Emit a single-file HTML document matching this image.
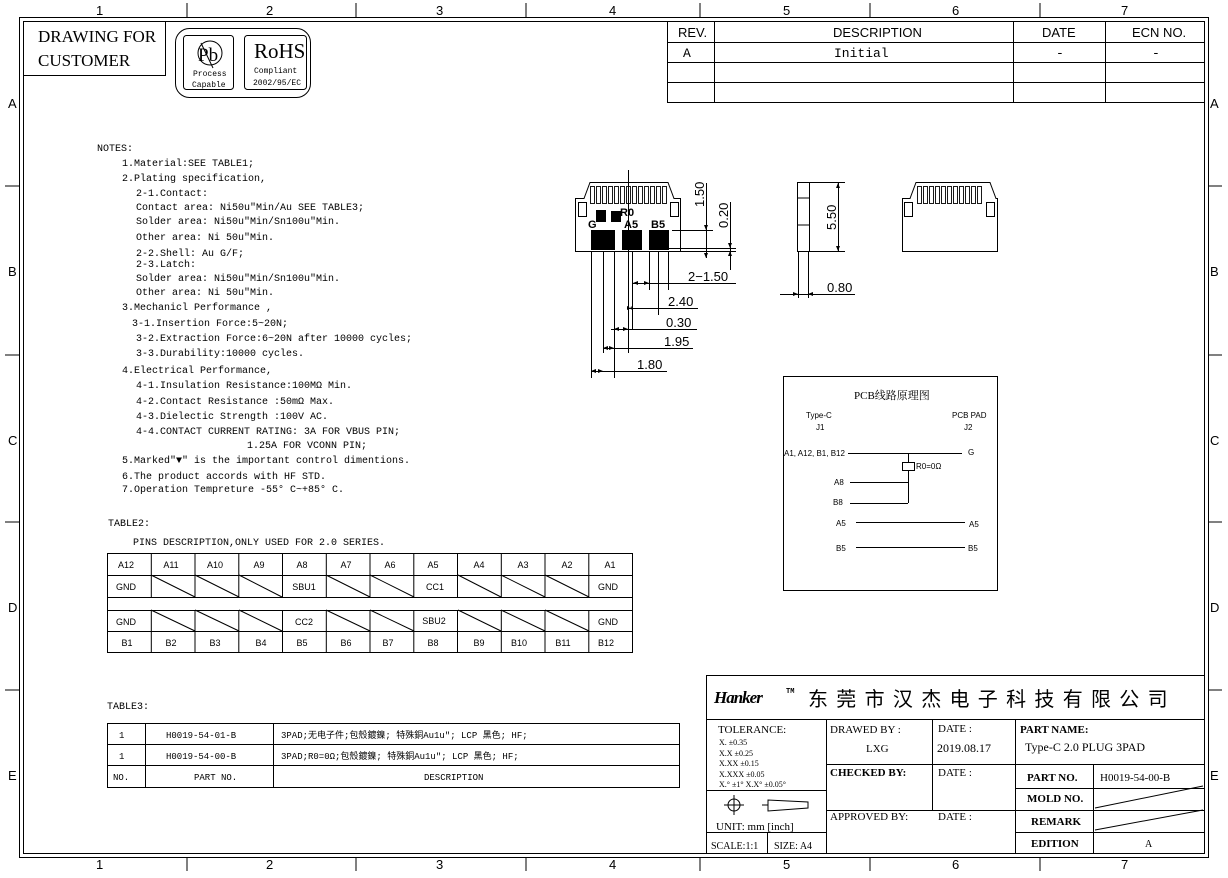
<!DOCTYPE html>
<html><head><meta charset="utf-8"><style>
html,body{margin:0;padding:0;background:#fff}
svg{display:block}
text{font-family:"Liberation Mono","Noto Sans CJK SC",monospace;font-size:10px;fill:#000}
.s text, text.s{font-family:"Liberation Sans","Noto Sans CJK SC",sans-serif}
.serif text, text.serif{font-family:"Liberation Serif","Noto Serif CJK SC",serif}
</style></head><body>
<svg width="1228" height="878" viewBox="0 0 1228 878" xmlns="http://www.w3.org/2000/svg">
<g fill="none" stroke="#000" stroke-width="1">
<rect x="19.5" y="17.5" width="1189" height="840"/>
<rect x="23.5" y="21.5" width="1181" height="832"/>
<path d="M187 3V17M356 3V17M526 3V17M700 3V17M870 3V17M1040 3V17M187 857V871M356 857V871M526 857V871M700 857V871M870 857V871M1040 857V871"/>
<path d="M5 186H19M5 355H19M5 522H19M5 690H19M1208 186H1222M1208 355H1222M1208 522H1222M1208 690H1222"/>
<path d="M23.5 75.5H165.5V21"/>
<rect x="175.5" y="28.5" width="135" height="69" rx="14"/>
<rect x="183.5" y="35.5" width="50" height="54" rx="3"/>
<rect x="244.5" y="35.5" width="62" height="54" rx="3"/>
<circle cx="210" cy="53" r="12"/>
<path d="M201 43L213 68"/>
<rect x="667.5" y="21.5" width="537" height="81"/>
<path d="M667 42.5H1205M667 62.5H1205M667 82.5H1205M714.5 21V102M1013.5 21V102M1105.5 21V102"/>
<rect x="706.5" y="675.5" width="498" height="178"/>
<path d="M706 719.5H1205M826.5 719V853M932.5 719V810M1015.5 719V853M1093.5 764V853"/>
<path d="M826 764.5H1015M1015 764.5H1205M1015 788.5H1205M826 810.5H1015M1015 810.5H1205M1015 832.5H1205M706 790.5H826M706 832.5H826M767.5 832V853"/>
<path d="M1095 808L1203 786M1095 830L1203 810"/>
<circle cx="734" cy="805" r="6"/><path d="M724 805H744M734 795V815"/>
<path d="M762 805H768M768 800V811L808 808V802Z"/>
<rect x="107.5" y="553.5" width="525" height="99"/>
<path d="M107 575.5H632M107 597.5H632M107 610.5H632M107 631.5H632"/>
<rect x="107.5" y="723.5" width="572" height="64"/>
<path d="M107 744.5H679M107 765.5H679M145.5 723V787M273.5 723V787"/>
<rect x="783.5" y="376.5" width="214" height="214"/>
<path d="M848 453.5H962M908.5 453V462M908.5 470V503M850 482.5H908M850 503.5H908M856 522.5H965M856 547.5H965"/>
<rect x="902.5" y="462.5" width="12" height="8"/>
<path d="M575.5 251.5V198.5H584L590 182.5H668L674 198.5H680.5V251.5Z"/>
<rect x="578.5" y="202.5" width="8" height="14"/>
<rect x="670.5" y="202.5" width="8" height="14"/>
<g stroke-width="0.9">
<rect x="590.5" y="186.5" width="4" height="17"/><rect x="596.5" y="186.5" width="4" height="17"/><rect x="602.5" y="186.5" width="4" height="17"/><rect x="608.5" y="186.5" width="4" height="17"/><rect x="614.5" y="186.5" width="4" height="17"/><rect x="620.5" y="186.5" width="4" height="17"/><rect x="626.5" y="186.5" width="4" height="17"/><rect x="632.5" y="186.5" width="4" height="17"/><rect x="638.5" y="186.5" width="4" height="17"/><rect x="644.5" y="186.5" width="4" height="17"/><rect x="650.5" y="186.5" width="4" height="17"/><rect x="656.5" y="186.5" width="4" height="17"/><rect x="662.5" y="186.5" width="4" height="17"/>
</g>
<path d="M628.5 170V258"/>
<path d="M591.5 251V378M603.5 251V353M614.5 251V378M628.5 251V353M632.5 251V330M649.5 251V290M658.5 251V315M668.5 251V290"/>
<path d="M633 283.5H736M628 308.5H698M611 329.5H697M603 348.5H693M591 371.5H667"/>
<path d="M672 230.5H713M650 248.5H736M680 251.5H736M706.5 183V258M730.5 202V270"/>
<rect x="797.5" y="182.5" width="12" height="69"/>
<path d="M797.5 198H809M797.5 225H809M809 182.5H845M809 251.5H845M838.5 182V251M798.5 251V298M808.5 251V298M780 294.5H855"/>
<path d="M902.5 251.5V198.5H910L916 182.5H990L996 198.5H997.5V251.5Z"/>
<rect x="904.5" y="202.5" width="8" height="14"/>
<rect x="986.5" y="202.5" width="8" height="14"/>
<g stroke-width="0.9">
<rect x="917.5" y="186.5" width="4" height="17"/><rect x="923.5" y="186.5" width="4" height="17"/><rect x="929.5" y="186.5" width="4" height="17"/><rect x="935.5" y="186.5" width="4" height="17"/><rect x="941.5" y="186.5" width="4" height="17"/><rect x="947.5" y="186.5" width="4" height="17"/><rect x="953.5" y="186.5" width="4" height="17"/><rect x="959.5" y="186.5" width="4" height="17"/><rect x="965.5" y="186.5" width="4" height="17"/><rect x="971.5" y="186.5" width="4" height="17"/><rect x="977.5" y="186.5" width="4" height="17"/>
</g>
</g>
<g stroke="#000" fill="none">
<path d="M151.3 553V597M195 553V597M238.8 553V597M282.5 553V597M326.3 553V597M370 553V597M413.8 553V597M457.5 553V597M501.3 553V597M545 553V597M588.8 553V597"/>
<path d="M151.3 610V652M195 610V652M238.8 610V652M282.5 610V652M326.3 610V652M370 610V652M413.8 610V652M457.5 610V652M501.3 610V652M545 610V652M588.8 610V652"/>
<path d="M151 575L195 597M195 575L239 597M239 575L282 597M326 575L370 597M370 575L414 597M458 575L501 597M501 575L545 597M545 575L589 597"/>
<path d="M151 610L195 631M195 610L239 631M239 610L282 631M326 610L370 631M370 610L414 631M458 610L501 631M501 610L545 631M545 610L589 631"/>
</g>
<g fill="#000">
<rect x="591" y="230" width="24" height="20"/><rect x="622" y="230" width="20" height="20"/><rect x="649" y="230" width="20" height="20"/>
<rect x="596" y="210" width="10" height="12"/><rect x="611" y="211" width="10" height="11"/>
<path d="M706 258l-2 -5h4zM706 230l-2 -5h4zM730 248l-2 -5h4zM730 251l-2 5h4zM838 183l-2 5h4zM838 251l-2 -5h4zM649 283l-5-2v4zM633 283l5-2v4zM628 308l5-2v4zM632 308l-5-2v4zM614 329l5-2v4zM628 329l-5-2v4zM603 348l5-2v4zM614 348l-5-2v4zM591 371l5-2v4zM603 371l-5-2v4zM798 294l-5-2v4zM808 294l5-2v4z"/>
</g>
<g class="s">
<text x="588" y="228" style="font-weight:bold;font-size:11px">G</text><text x="620" y="216" style="font-weight:bold;font-size:11px">R0</text><text x="624" y="228" style="font-weight:bold;font-size:11px">A5</text><text x="651" y="228" style="font-weight:bold;font-size:11px">B5</text>
</g>
<g class="s">
<text x="688" y="281" style="font-size:13px">2−1.50</text>
<text x="668" y="306" style="font-size:13px">2.40</text>
<text x="666" y="327" style="font-size:13px">0.30</text>
<text x="664" y="346" style="font-size:13px">1.95</text>
<text x="637" y="369" style="font-size:13px">1.80</text>
<text x="827" y="292" style="font-size:13px">0.80</text>
<text transform="translate(704,207) rotate(-90)" style="font-size:13px">1.50</text>
<text transform="translate(728,228) rotate(-90)" style="font-size:13px">0.20</text>
<text transform="translate(836,230) rotate(-90)" style="font-size:13px">5.50</text>
</g>
<g class="s">
<text x="96" y="15" style="font-size:13px">1</text><text x="266" y="15" style="font-size:13px">2</text><text x="436" y="15" style="font-size:13px">3</text><text x="609" y="15" style="font-size:13px">4</text><text x="783" y="15" style="font-size:13px">5</text><text x="952" y="15" style="font-size:13px">6</text><text x="1121" y="15" style="font-size:13px">7</text>
<text x="96" y="869" style="font-size:13px">1</text><text x="266" y="869" style="font-size:13px">2</text><text x="436" y="869" style="font-size:13px">3</text><text x="609" y="869" style="font-size:13px">4</text><text x="783" y="869" style="font-size:13px">5</text><text x="952" y="869" style="font-size:13px">6</text><text x="1121" y="869" style="font-size:13px">7</text>
<text x="8" y="108" style="font-size:13px">A</text><text x="8" y="276" style="font-size:13px">B</text><text x="8" y="445" style="font-size:13px">C</text><text x="8" y="612" style="font-size:13px">D</text><text x="8" y="780" style="font-size:13px">E</text>
<text x="1210" y="108" style="font-size:13px">A</text><text x="1210" y="276" style="font-size:13px">B</text><text x="1210" y="445" style="font-size:13px">C</text><text x="1210" y="612" style="font-size:13px">D</text><text x="1210" y="780" style="font-size:13px">E</text>
</g>
<text class="serif" x="38" y="42" style="font-size:17px">DRAWING FOR</text>
<text class="serif" x="38" y="66" style="font-size:17px">CUSTOMER</text>
<text class="serif" x="198" y="61" style="font-size:19px">Pb</text>
<text x="193" y="76" style="font-size:8px">Process</text>
<text x="192" y="87" style="font-size:8px">Capable</text>
<text class="serif" x="254" y="58" style="font-size:21px">RoHS</text>
<text x="254" y="73" style="font-size:8px">Compliant</text>
<text x="253" y="85" style="font-size:8px">2002/95/EC</text>
<g class="s">
<text x="678" y="37" style="font-size:13px">REV.</text><text x="833" y="37" style="font-size:13px">DESCRIPTION</text><text x="1042" y="37" style="font-size:13px">DATE</text><text x="1132" y="37" style="font-size:13px">ECN NO.</text>
</g>
<text x="683" y="57" style="font-size:13px">A</text><text x="834" y="57" style="font-size:13px">Initial</text><text x="1056" y="57" style="font-size:13px">-</text><text x="1152" y="57" style="font-size:13px">-</text>
<g>
<text x="97" y="151">NOTES:</text>
<text x="122" y="166">1.Material:SEE TABLE1;</text>
<text x="122" y="181">2.Plating specification,</text>
<text x="136" y="196">2-1.Contact:</text>
<text x="136" y="210">Contact area: Ni50u"Min/Au SEE TABLE3;</text>
<text x="136" y="224">Solder area: Ni50u"Min/Sn100u"Min.</text>
<text x="136" y="240">Other area: Ni 50u"Min.</text>
<text x="136" y="256">2-2.Shell: Au G/F;</text>
<text x="136" y="267">2-3.Latch:</text>
<text x="136" y="281">Solder area: Ni50u"Min/Sn100u"Min.</text>
<text x="136" y="295">Other area: Ni 50u"Min.</text>
<text x="122" y="310">3.Mechanicl Performance ,</text>
<text x="132" y="326">3-1.Insertion Force:5~20N;</text>
<text x="136" y="341">3-2.Extraction Force:6~20N after 10000 cycles;</text>
<text x="136" y="356">3-3.Durability:10000 cycles.</text>
<text x="122" y="373">4.Electrical Performance,</text>
<text x="136" y="388">4-1.Insulation Resistance:100MΩ Min.</text>
<text x="136" y="404">4-2.Contact Resistance :50mΩ Max.</text>
<text x="136" y="419">4-3.Dielectic Strength :100V AC.</text>
<text x="136" y="434">4-4.CONTACT CURRENT RATING: 3A FOR VBUS PIN;</text>
<text x="247" y="448">1.25A FOR VCONN PIN;</text>
<text x="122" y="463">5.Marked"▼" is the important control dimentions.</text>
<text x="122" y="479">6.The product accords with HF STD.</text>
<text x="122" y="492">7.Operation Tempreture -55° C~+85° C.</text>
<text x="108" y="526">TABLE2:</text>
<text x="133" y="545">PINS DESCRIPTION,ONLY USED FOR 2.0 SERIES.</text>
<text x="107" y="709">TABLE3:</text>
</g>
<g class="s">
<text x="126" y="568" text-anchor="middle" style="font-size:9px">A12</text><text x="171" y="568" text-anchor="middle" style="font-size:9px">A11</text><text x="215" y="568" text-anchor="middle" style="font-size:9px">A10</text><text x="259" y="568" text-anchor="middle" style="font-size:9px">A9</text><text x="302" y="568" text-anchor="middle" style="font-size:9px">A8</text><text x="346" y="568" text-anchor="middle" style="font-size:9px">A7</text><text x="390" y="568" text-anchor="middle" style="font-size:9px">A6</text><text x="433" y="568" text-anchor="middle" style="font-size:9px">A5</text><text x="479" y="568" text-anchor="middle" style="font-size:9px">A4</text><text x="523" y="568" text-anchor="middle" style="font-size:9px">A3</text><text x="567" y="568" text-anchor="middle" style="font-size:9px">A2</text><text x="610" y="568" text-anchor="middle" style="font-size:9px">A1</text>
<text x="126" y="590" text-anchor="middle" style="font-size:9px">GND</text><text x="304" y="590" text-anchor="middle" style="font-size:9px">SBU1</text><text x="435" y="590" text-anchor="middle" style="font-size:9px">CC1</text><text x="608" y="590" text-anchor="middle" style="font-size:9px">GND</text>
<text x="126" y="625" text-anchor="middle" style="font-size:9px">GND</text><text x="304" y="625" text-anchor="middle" style="font-size:9px">CC2</text><text x="434" y="624" text-anchor="middle" style="font-size:9px">SBU2</text><text x="608" y="625" text-anchor="middle" style="font-size:9px">GND</text>
<text x="127" y="646" text-anchor="middle" style="font-size:9px">B1</text><text x="171" y="646" text-anchor="middle" style="font-size:9px">B2</text><text x="215" y="646" text-anchor="middle" style="font-size:9px">B3</text><text x="261" y="646" text-anchor="middle" style="font-size:9px">B4</text><text x="302" y="646" text-anchor="middle" style="font-size:9px">B5</text><text x="346" y="646" text-anchor="middle" style="font-size:9px">B6</text><text x="388" y="646" text-anchor="middle" style="font-size:9px">B7</text><text x="433" y="646" text-anchor="middle" style="font-size:9px">B8</text><text x="479" y="646" text-anchor="middle" style="font-size:9px">B9</text><text x="519" y="646" text-anchor="middle" style="font-size:9px">B10</text><text x="563" y="646" text-anchor="middle" style="font-size:9px">B11</text><text x="606" y="646" text-anchor="middle" style="font-size:9px">B12</text>
</g>
<g>
<text x="119" y="738" style="font-size:9px">1</text><text x="166" y="738" style="font-size:9px">H0019-54-01-B</text><text x="281" y="738" style="font-size:9px">3PAD;无电子件;包殼鍍鎳; 特殊銅Au1u"; LCP 黑色; HF;</text>
<text x="119" y="759" style="font-size:9px">1</text><text x="166" y="759" style="font-size:9px">H0019-54-00-B</text><text x="281" y="759" style="font-size:9px">3PAD;R0=0Ω;包殼鍍鎳; 特殊銅Au1u"; LCP 黑色; HF;</text>
<text x="113" y="780" style="font-size:9px">NO.</text><text x="194" y="780" style="font-size:9px">PART NO.</text><text x="424" y="780" style="font-size:9px">DESCRIPTION</text>
</g>
<text class="serif" x="854" y="399" style="font-size:11px">PCB线路原理图</text>
<g class="s">
<text x="806" y="418" style="font-size:8px">Type-C</text><text x="816" y="430" style="font-size:8px">J1</text>
<text x="952" y="418" style="font-size:8px">PCB PAD</text><text x="964" y="430" style="font-size:8px">J2</text>
<text x="784" y="456" style="font-size:8px">A1, A12, B1, B12</text><text x="968" y="455" style="font-size:8px">G</text>
<text x="916" y="469" style="font-size:8px">R0=0Ω</text>
<text x="834" y="485" style="font-size:8px">A8</text><text x="833" y="505" style="font-size:8px">B8</text>
<text x="836" y="526" style="font-size:8px">A5</text><text x="969" y="527" style="font-size:8px">A5</text>
<text x="836" y="551" style="font-size:8px">B5</text><text x="968" y="551" style="font-size:8px">B5</text>
</g>
<text class="serif" x="714" y="703" style="font-size:17px;font-style:italic;font-weight:bold;letter-spacing:-1px">Hanker</text>
<text x="786" y="693" style="font-size:7px;font-weight:bold">TM</text>
<text class="s" x="808" y="706" style="font-size:20px;letter-spacing:8.3px">东莞市汉杰电子科技有限公司</text>
<g class="serif">
<text x="718" y="733" style="font-size:11px">TOLERANCE:</text>
<text x="719" y="745" style="font-size:8px">X.    ±0.35</text>
<text x="719" y="756" style="font-size:8px">X.X   ±0.25</text>
<text x="719" y="766" style="font-size:8px">X.XX  ±0.15</text>
<text x="719" y="777" style="font-size:8px">X.XXX ±0.05</text>
<text x="719" y="787" style="font-size:8px">X.° ±1°     X.X° ±0.05°</text>
<text x="716" y="830" style="font-size:11px">UNIT: mm [inch]</text>
<text x="711" y="849" style="font-size:10px">SCALE:1:1</text>
<text x="774" y="849" style="font-size:10px">SIZE: A4</text>
<text x="830" y="733" style="font-size:11px">DRAWED BY :</text>
<text x="866" y="752" style="font-size:11px">LXG</text>
<text x="830" y="776" style="font-size:11px;font-weight:bold">CHECKED BY:</text>
<text x="830" y="820" style="font-size:11px">APPROVED BY:</text>
<text x="938" y="732" style="font-size:11px">DATE :</text>
<text x="937" y="752" style="font-size:12px">2019.08.17</text>
<text x="938" y="776" style="font-size:11px">DATE :</text>
<text x="938" y="820" style="font-size:11px">DATE :</text>
<text x="1020" y="733" style="font-size:11px;font-weight:bold">PART NAME:</text>
<text x="1025" y="751" style="font-size:12px">Type-C 2.0 PLUG 3PAD</text>
<text x="1027" y="781" style="font-size:11px;font-weight:bold">PART NO.</text>
<text x="1100" y="781" style="font-size:11px">H0019-54-00-B</text>
<text x="1027" y="802" style="font-size:11px;font-weight:bold">MOLD NO.</text>
<text x="1031" y="825" style="font-size:11px;font-weight:bold">REMARK</text>
<text x="1031" y="847" style="font-size:11px;font-weight:bold">EDITION</text>
<text x="1145" y="847" style="font-size:10px">A</text>
</g>
</svg>
</body></html>
